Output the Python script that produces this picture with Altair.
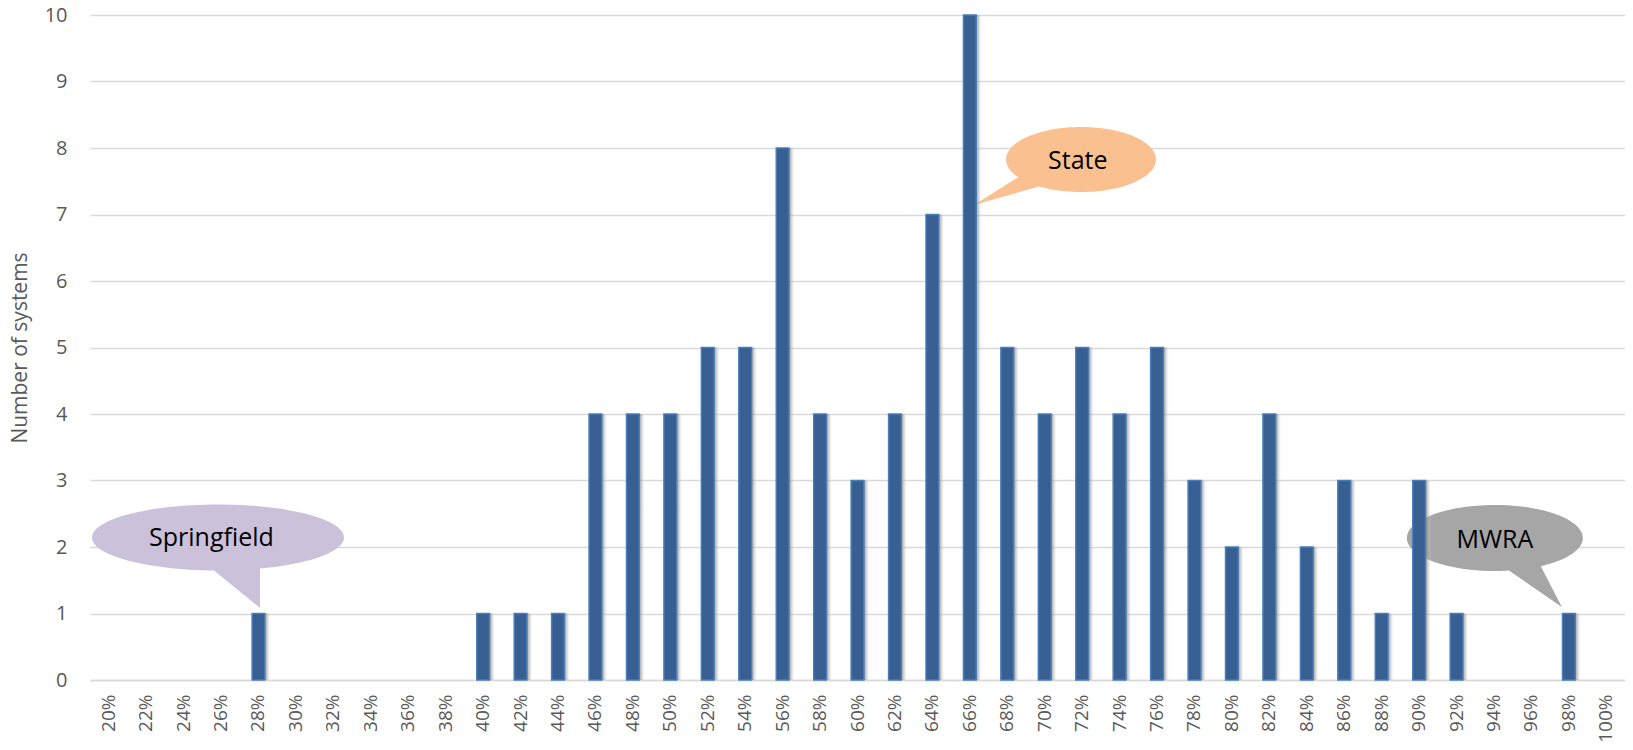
import math
import altair as alt
import pandas as pd

# ---------------- data ----------------
categories = ["20%", "22%", "24%", "26%", "28%", "30%", "32%", "34%", "36%", "38%",
              "40%", "42%", "44%", "46%", "48%", "50%", "52%", "54%", "56%", "58%",
              "60%", "62%", "64%", "66%", "68%", "70%", "72%", "74%", "76%", "78%",
              "80%", "82%", "84%", "86%", "88%", "90%", "92%", "94%", "96%", "98%", "100%"]
counts = [0, 0, 0, 0, 1, 0, 0, 0, 0, 0,
          1, 1, 1, 4, 4, 4, 5, 5, 8, 4,
          3, 4, 7, 10, 5, 4, 5, 4, 5, 3,
          2, 4, 2, 3, 1, 3, 1, 0, 0, 1, 0]

ann_labels = ["Springfield", "State", "MWRA"]
ann_x = ["28%", "66%", "98%"]
ann_y = [1, 7, 1]
ann_colors = ["#ccc1da", "#fac090", "#a6a6a6"]

# ---------------- bubble styling (pixels relative to the anchor point) ----------------
BUBBLES = {
    "Springfield": dict(c=(-40.5, -76), r=(126, 33), a=91.8, b=70.5, tip=(1.5, -5.5), text=(-47, -76)),
    "State": dict(c=(111.2, -55), r=(75, 32.5), a=147, b=124, tip=(4.2, -9.5), text=(108, -53.5)),
    "MWRA": dict(c=(-74, -75.5), r=(88, 33), a=80.8, b=58.5, tip=(-7, -6.5), text=(-74, -73.5)),
}
UNIT = 100.0  # symbol path scale: sqrt(size)/2
BUBBLE_SIZE = (2 * UNIT) ** 2


def bubble_path(g):
    cx, cy = g["c"]
    rx, ry = g["r"]

    def P(t):
        t = math.radians(t)
        return (cx + rx * math.cos(t), cy + ry * math.sin(t))

    pts = [P(g["a"]), g["tip"], P(g["b"])]
    n = 120
    end = g["a"] - 360
    for i in range(1, n):
        t = g["b"] + (end - g["b"]) * i / n
        pts.append(P(t))
    s = "M " + " L ".join(f"{x / UNIT:.4f} {y / UNIT:.4f}" for x, y in pts) + " Z"
    return s


df = pd.DataFrame({"cat": categories, "count": counts})

FONT = "Open Sans"
GRAY = "#595959"

x_enc = alt.X(
    "cat:N",
    sort=categories,
    scale=alt.Scale(domain=categories, paddingInner=0, paddingOuter=0),
    axis=alt.Axis(
        title=None,
        labelAngle=270,
        labelFont=FONT,
        labelFontSize=19,
        labelColor=GRAY,
        labelPadding=14,
        ticks=False,
        domainColor="#d9d9d9",
        domainWidth=1.5,
        grid=False,
        labelOverlap=False,
    ),
)
y_enc = alt.Y(
    "count:Q",
    scale=alt.Scale(domain=[0, 10], nice=False),
    axis=alt.Axis(
        title="Number of systems",
        values=list(range(0, 11)),
        labelFont=FONT,
        labelFontSize=20,
        labelColor=GRAY,
        labelPadding=23,
        ticks=False,
        domain=False,
        gridColor="#d9d9d9",
        gridWidth=1.5,
        titleFont=FONT,
        titleFontSize=21,
        titleFontWeight="normal",
        titleColor=GRAY,
        titleX=-64,
        titleY=332.5,
        titleBaseline="alphabetic",
        titleAlign="center",
    ),
)

base = alt.Chart(df).transform_filter("datum.count > 0")

shadow_grad = alt.LinearGradient(
    gradient="linear",
    x1=0, x2=1, y1=0, y2=0,
    stops=[
        alt.GradientStop(color="rgba(255,255,255,0)", offset=0),
        alt.GradientStop(color="rgba(255,255,255,0)", offset=0.3),
        alt.GradientStop(color="rgba(90,90,90,0.9)", offset=0.5),
        alt.GradientStop(color="rgba(110,110,110,0.8)", offset=0.74),
        alt.GradientStop(color="rgba(170,170,170,0.4)", offset=0.88),
        alt.GradientStop(color="rgba(255,255,255,0)", offset=1),
    ],
)

shadow = base.mark_bar(width={"band": 0.66}, color=shadow_grad).encode(x=x_enc, y=y_enc)
bars = base.mark_bar(
    width={"band": 0.34}, color="#375f91", stroke="#4a7dba", strokeWidth=1.5
).encode(x=x_enc, y=y_enc)

bubble_layers = []
text_layers = []
for lab, xv, yv, col in zip(ann_labels, ann_x, ann_y, ann_colors):
    g = BUBBLES[lab]
    adf = pd.DataFrame({"cat": [xv], "count": [yv], "label": [lab]})
    bubble_layers.append(
        alt.Chart(adf).mark_point(
            shape=bubble_path(g), size=BUBBLE_SIZE, filled=True, fill=col,
            opacity=1, strokeWidth=0
        ).encode(x=x_enc, y=y_enc)
    )
    text_layers.append(
        alt.Chart(adf).mark_text(
            dx=g["text"][0], dy=g["text"][1], font=FONT, fontSize=25,
            color="#000000", align="center", baseline="middle"
        ).encode(x=x_enc, y=y_enc, text="label:N")
    )

chart = alt.layer(*bubble_layers, shadow, bars, *text_layers).properties(
    width=1535,
    height=665,
    autosize=alt.AutoSizeParams(type="none"),
    padding={"left": 82, "top": 7, "right": 0, "bottom": 62},
).configure_view(stroke=None)

chart.save("out.html", embed_options={"renderer": "svg", "actions": False})
